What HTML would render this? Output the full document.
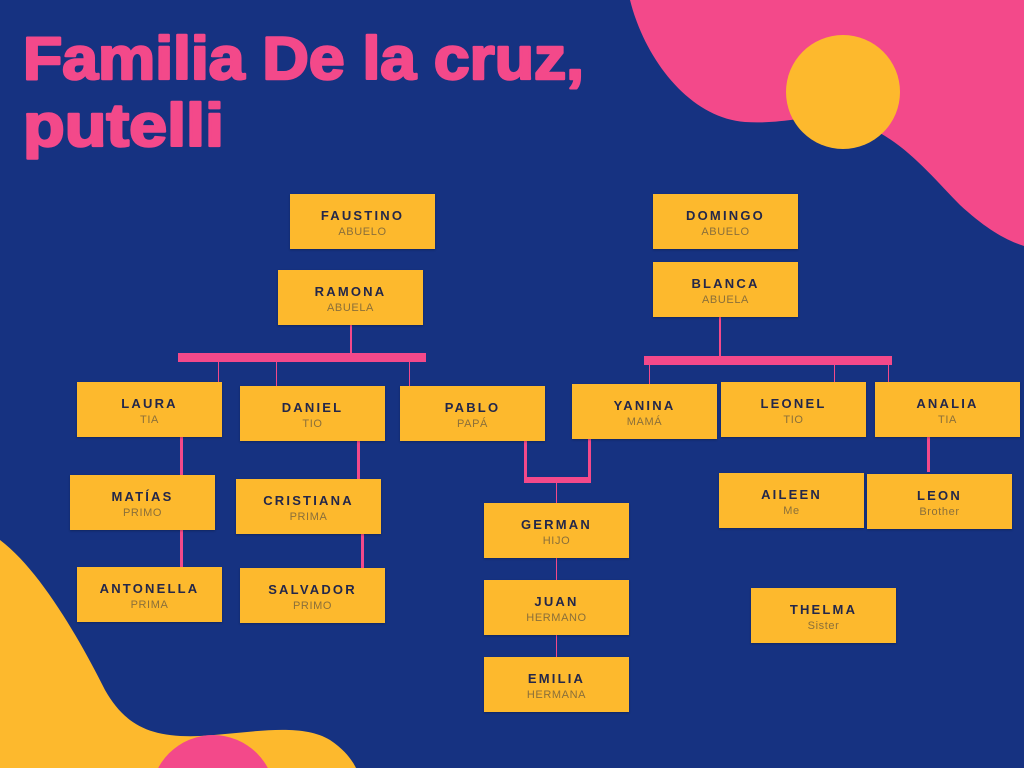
<!DOCTYPE html>
<html><head><meta charset="utf-8"><style>
html,body{margin:0;padding:0;width:1024px;height:768px;overflow:hidden}
body{position:relative;background:#163281;font-family:"Liberation Sans",sans-serif}
.b{position:absolute;width:145px;height:55px;background:#fdb92d;text-align:center;box-shadow:0 1px 2px rgba(0,0,0,.25)}
.b .n{position:absolute;left:0;right:0;top:14px;font-weight:bold;font-size:13px;letter-spacing:2.2px;color:#23274a}
.b .s{position:absolute;left:0;right:0;top:32px;font-size:11px;letter-spacing:.6px;color:#8a6f3a}
.l{position:absolute;background:#f3498a}
</style></head><body>
<svg width="1024" height="768" style="position:absolute;left:0;top:0;overflow:hidden">
<path d="M630,0 C645,60 690,118 745,122 C790,125 820,110 850,120 C900,135 930,175 960,205 C985,228 1005,240 1024,246 L1024,0 Z" fill="#f3498a"/>
<circle cx="843" cy="92" r="57" fill="#fdb92d"/>
<path d="M0,540 C40,570 80,640 105,690 C125,725 150,738 200,736 C250,733 300,722 330,740 C345,750 352,760 356,768 L0,768 Z" fill="#fdb92d"/>
<circle cx="213" cy="797" r="62" fill="#f3498a"/>
<text x="23" y="79" font-family="Liberation Sans" font-weight="bold" font-size="60" fill="#f3498a" stroke="#f3498a" stroke-width="2.5" stroke-linejoin="round" textLength="561" lengthAdjust="spacingAndGlyphs">Familia De la cruz,</text>
<text x="23" y="146" font-family="Liberation Sans" font-weight="bold" font-size="60" fill="#f3498a" stroke="#f3498a" stroke-width="2.5" stroke-linejoin="round" textLength="201" lengthAdjust="spacingAndGlyphs">putelli</text>
</svg>
<div class="l" style="left:178px;top:353px;width:248px;height:9px"></div>
<div class="l" style="left:350px;top:325px;width:2px;height:29px"></div>
<div class="l" style="left:218px;top:362px;width:1px;height:20px"></div>
<div class="l" style="left:276px;top:362px;width:1px;height:24px"></div>
<div class="l" style="left:409px;top:362px;width:1px;height:24px"></div>
<div class="l" style="left:644px;top:356px;width:248px;height:9px"></div>
<div class="l" style="left:719px;top:317px;width:2px;height:40px"></div>
<div class="l" style="left:649px;top:365px;width:1px;height:19px"></div>
<div class="l" style="left:834px;top:365px;width:1px;height:17px"></div>
<div class="l" style="left:888px;top:365px;width:1px;height:17px"></div>
<div class="l" style="left:524px;top:440px;width:3px;height:42px"></div>
<div class="l" style="left:588px;top:438px;width:3px;height:44px"></div>
<div class="l" style="left:524px;top:477px;width:67px;height:6px"></div>
<div class="l" style="left:556px;top:483px;width:1px;height:20px"></div>
<div class="l" style="left:180px;top:437px;width:3px;height:38px"></div>
<div class="l" style="left:180px;top:530px;width:3px;height:37px"></div>
<div class="l" style="left:357px;top:441px;width:3px;height:38px"></div>
<div class="l" style="left:361px;top:534px;width:3px;height:34px"></div>
<div class="l" style="left:556px;top:558px;width:1px;height:22px"></div>
<div class="l" style="left:556px;top:635px;width:1px;height:22px"></div>
<div class="l" style="left:927px;top:437px;width:3px;height:35px"></div>

<div class="b" style="left:290px;top:194px"><div class="n">FAUSTINO</div><div class="s">ABUELO</div></div>
<div class="b" style="left:278px;top:270px"><div class="n">RAMONA</div><div class="s">ABUELA</div></div>
<div class="b" style="left:653px;top:194px"><div class="n">DOMINGO</div><div class="s">ABUELO</div></div>
<div class="b" style="left:653px;top:262px"><div class="n">BLANCA</div><div class="s">ABUELA</div></div>
<div class="b" style="left:77px;top:382px"><div class="n">LAURA</div><div class="s">TIA</div></div>
<div class="b" style="left:240px;top:386px"><div class="n">DANIEL</div><div class="s">TIO</div></div>
<div class="b" style="left:400px;top:386px"><div class="n">PABLO</div><div class="s">PAPÁ</div></div>
<div class="b" style="left:572px;top:384px"><div class="n">YANINA</div><div class="s">MAMÁ</div></div>
<div class="b" style="left:721px;top:382px"><div class="n">LEONEL</div><div class="s">TIO</div></div>
<div class="b" style="left:875px;top:382px"><div class="n">ANALIA</div><div class="s">TIA</div></div>
<div class="b" style="left:70px;top:475px"><div class="n">MATÍAS</div><div class="s">PRIMO</div></div>
<div class="b" style="left:236px;top:479px"><div class="n">CRISTIANA</div><div class="s">PRIMA</div></div>
<div class="b" style="left:484px;top:503px"><div class="n">GERMAN</div><div class="s">HIJO</div></div>
<div class="b" style="left:719px;top:473px"><div class="n">AILEEN</div><div class="s">Me</div></div>
<div class="b" style="left:867px;top:474px"><div class="n">LEON</div><div class="s">Brother</div></div>
<div class="b" style="left:77px;top:567px"><div class="n">ANTONELLA</div><div class="s">PRIMA</div></div>
<div class="b" style="left:240px;top:568px"><div class="n">SALVADOR</div><div class="s">PRIMO</div></div>
<div class="b" style="left:484px;top:580px"><div class="n">JUAN</div><div class="s">HERMANO</div></div>
<div class="b" style="left:751px;top:588px"><div class="n">THELMA</div><div class="s">Sister</div></div>
<div class="b" style="left:484px;top:657px"><div class="n">EMILIA</div><div class="s">HERMANA</div></div>
</body></html>
